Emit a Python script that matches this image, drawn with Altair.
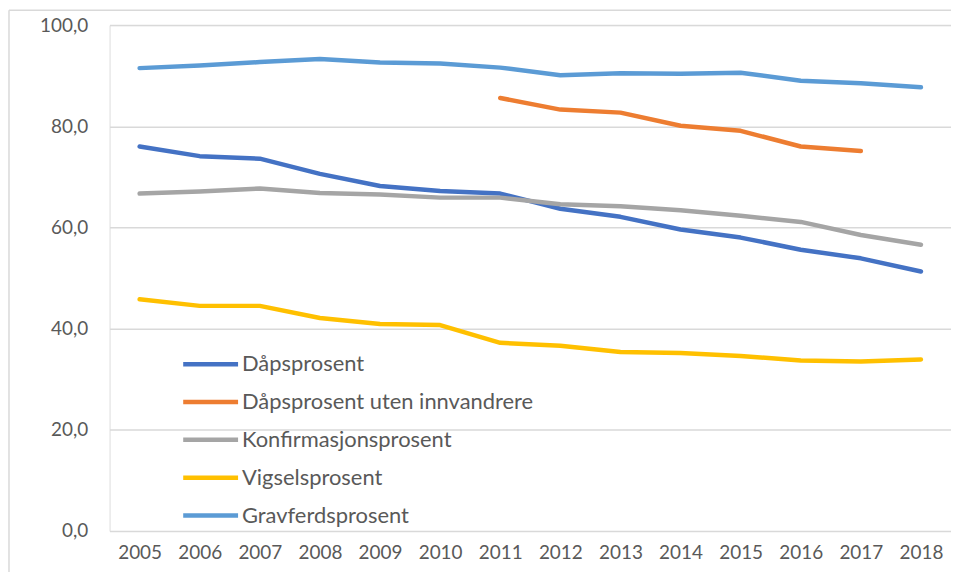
import altair as alt
import pandas as pd

years = [str(y) for y in range(2005, 2019)]
series_names = ["Dåpsprosent", "Dåpsprosent uten innvandrere", "Konfirmasjonsprosent",
                "Vigselsprosent", "Gravferdsprosent"]
colors = ["#4472C4", "#ED7D31", "#A5A5A5", "#FFC000", "#5B9BD5"]

daap = [76.0, 74.1, 73.6, 70.6, 68.2, 67.2, 66.7, 63.7, 62.1, 59.6, 58.0, 55.6, 53.9, 51.3]
daap_uten = [None, None, None, None, None, None, 85.6, 83.3, 82.7, 80.1, 79.1, 76.0, 75.1, None]
konf = [66.7, 67.1, 67.7, 66.8, 66.5, 65.9, 65.9, 64.6, 64.2, 63.4, 62.3, 61.1, 58.5, 56.6]
vigsel = [45.8, 44.5, 44.5, 42.1, 40.9, 40.7, 37.2, 36.6, 35.4, 35.2, 34.6, 33.7, 33.5, 33.9]
gravferd = [91.5, 92.0, 92.7, 93.3, 92.6, 92.4, 91.6, 90.1, 90.5, 90.4, 90.6, 89.0, 88.5, 87.7]

rows = []
for name, vals in zip(series_names, [daap, daap_uten, konf, vigsel, gravferd]):
    for y, v in zip(years, vals):
        if v is not None:
            rows.append({"År": y, "Serie": name, "Verdi": v})
df = pd.DataFrame(rows)

FONT = "Lato"
TXT = "#595959"

lines = alt.Chart(df).mark_line(strokeWidth=4.5, strokeCap="round", strokeJoin="round").encode(
    x=alt.X("År:O", sort=years,
            scale=alt.Scale(type="point", padding=0.5),
            axis=alt.Axis(title=None, labelAngle=0, domain=False, ticks=False, grid=False,
                          labelFontSize=19, labelColor=TXT, labelFont=FONT, labelPadding=13)),
    y=alt.Y("Verdi:Q", scale=alt.Scale(domain=[0, 100], nice=False),
            axis=alt.Axis(title=None, values=[0, 20, 40, 60, 80, 100], domain=False, ticks=False,
                          gridColor="#D9D9D9", gridWidth=1.5,
                          labelExpr="replace(format(datum.value, '.1f'), '.', ',')",
                          labelFontSize=19, labelColor=TXT, labelFont=FONT, labelPadding=22)),
    color=alt.Color("Serie:N", sort=series_names,
                    scale=alt.Scale(domain=series_names, range=colors),
                    legend=alt.Legend(title=None, orient="none", legendX=80, legendY=319,
                                      symbolType="M-1.45,0H1.45", symbolSize=1444,
                                      symbolStrokeWidth=4.5, symbolFillColor="transparent",
                                      labelFontSize=22, labelFont=FONT, labelColor=TXT,
                                      labelOffset=10, rowPadding=5, labelLimit=400)),
    order=alt.Order("År:O"),
)

border_left = alt.Chart(pd.DataFrame({"k": [0]})).mark_rule(color="#D9D9D9", strokeWidth=1.5).encode(
    x=alt.value(-101), y=alt.value(-15), y2=alt.value(560))
border_top = alt.Chart(pd.DataFrame({"k": [0]})).mark_rule(color="#D9D9D9", strokeWidth=1.5).encode(
    x=alt.value(-101), x2=alt.value(845), y=alt.value(-15))

chart = alt.layer(border_left, border_top, lines).properties(
    width=845, height=508,
    autosize=alt.AutoSizeParams(type="none"),
    padding={"left": 102, "top": 16, "right": 0, "bottom": 40},
).configure_view(stroke=None).configure(background="white")

chart.save("out.html", embed_options={"renderer": "svg", "actions": False})
